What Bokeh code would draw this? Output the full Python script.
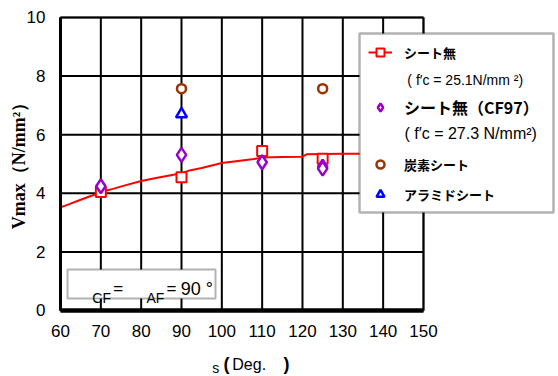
import math
from bokeh.plotting import figure
from bokeh.models import Range1d, FixedTicker, Legend, LegendItem, Label, BoxAnnotation, LinearAxis
from bokeh.embed import file_html
from bokeh.resources import INLINE

# ---- data ----
angle_ticks = [60, 70, 80, 90, 100, 110, 120, 130, 140, 150]
v_ticks = [0, 2, 4, 6, 8, 10]

# シート無 (f'c = 25.1 N/mm2)
none_angle = [70, 90, 110, 125]
none_v = [4.04, 4.55, 5.44, 5.18]
# fitted curve for シート無
curve_angle = [60, 62, 65, 68, 70, 73, 76, 80, 84, 88, 90, 92, 95, 100, 104, 108, 110, 115, 120, 121, 130, 140, 150]
curve_v = [3.52, 3.62, 3.78, 3.93, 4.04, 4.15, 4.27, 4.42, 4.53, 4.63, 4.68, 4.78, 4.86, 5.03, 5.10, 5.17, 5.22, 5.24, 5.25, 5.33, 5.35, 5.35, 5.35]
# シート無 (CF97)
cf97_angle = [70, 90, 110, 125, 125]
cf97_v = [4.24, 5.31, 5.06, 4.91, 4.84]
# 炭素シート
carbon_angle = [90, 125]
carbon_v = [7.57, 7.57]
# アラミドシート
aramid_angle = [90]
aramid_v = [6.7]

RED = "#FF0000"
PURPLE = "#9900CC"
BROWN = "#993300"
BLUE = "#0000FF"
SANS = "Liberation Sans"
CJK = "Noto Sans CJK JP"

X0, X1 = angle_ticks[0], angle_ticks[-1]
Y0, Y1 = v_ticks[0], v_ticks[-1]

# frame covers the whole canvas; data area 60..150 x 0..10 sits at px 60..423 / 310..17
p = figure(width=558, height=376, x_range=Range1d(45.12, 183.48), y_range=Range1d(-2.252, 10.577),
           output_backend="svg", toolbar_location=None,
           x_axis_location=None, y_axis_location=None,
           min_border=0, min_border_left=0, min_border_right=0, min_border_top=0, min_border_bottom=0)
p.background_fill_color = "white"
p.border_fill_color = "white"
p.outline_line_color = None
p.grid.visible = False

# grid lines from tick arrays
p.segment(x0=angle_ticks, y0=[Y0] * len(angle_ticks), x1=angle_ticks, y1=[Y1] * len(angle_ticks),
          line_color="black", line_width=2)
p.segment(x0=[X0] * len(v_ticks), y0=v_ticks, x1=[X1] * len(v_ticks), y1=v_ticks,
          line_color="black", line_width=2)

# axes at fixed locations
xaxis = LinearAxis(fixed_location=0, ticker=FixedTicker(ticks=angle_ticks), bounds=(X0, X1))
yaxis = LinearAxis(fixed_location=60, ticker=FixedTicker(ticks=v_ticks), bounds=(Y0, Y1))
for ax in (xaxis, yaxis):
    ax.major_tick_line_color = None
    ax.minor_tick_line_color = None
    ax.axis_line_color = "black"
    ax.major_label_text_font = SANS
    ax.major_label_text_font_size = "17px"
    ax.major_label_text_color = "black"
xaxis.axis_line_width = 4.5
yaxis.axis_line_width = 3
xaxis.major_label_standoff = 9
yaxis.major_label_standoff = 9
p.add_layout(xaxis, "below")
p.add_layout(yaxis, "left")

curve_r = p.line(curve_angle, curve_v, line_color=RED, line_width=2)
none_r = p.scatter(none_angle, none_v, marker="square", size=10, line_color=RED,
                   fill_color="white", line_width=2)
cf97_r = p.scatter(cf97_angle, cf97_v, marker="diamond", size=14,
                   line_color=PURPLE, fill_color="white", line_width=2.5)
carbon_r = p.scatter(carbon_angle, carbon_v, marker="circle", size=9, line_color=BROWN,
                     fill_color="white", line_width=2.5)
aramid_r = p.scatter(aramid_angle, aramid_v, marker="triangle", size=11, line_color=BLUE,
                     fill_color="white", line_width=2.5)

# plot-area border (top / right)
p.add_layout(BoxAnnotation(left=X0, right=X1, bottom=Y0, top=Y1, fill_alpha=0,
                           line_color="black", line_width=3))

def lab(x, y, text, size, font=SANS, style="normal", baseline="alphabetic", align="left", angle=0):
    p.add_layout(Label(x=x, y=y, text=text, text_font=font, text_font_size=size,
                       text_font_style=style, text_color="black", text_baseline=baseline,
                       text_align=align, angle=angle))

# ---- inset condition box ----
p.add_layout(BoxAnnotation(left=61.74, right=98.43, bottom=0.41, top=1.40,
                           fill_color="white", fill_alpha=1, line_color="black", line_width=2))
lab(67.9, 0.44, "CF", "14px")
lab(73.1, 0.75, "=", "17px")
lab(81.3, 0.44, "AF", "14px")
lab(86.3, 0.75, "=", "17px")
lab(89.8, 0.75, "90 °", "18px")

# ---- axis titles ----
lab(49.6, 5.08, "Vmax（N/mm²）", "18px", font="Liberation Serif", style="bold",
    baseline="middle", align="center", angle=math.pi / 2)
lab(97.6, -1.95, "s", "14px")
lab(100.4, -1.84, "(", "18px", style="bold")
lab(102.6, -1.84, "Deg.", "16px")
lab(115.3, -1.84, ")", "18px", style="bold")

# ---- legend ----
p.add_layout(BoxAnnotation(left=134.14, right=182.24, bottom=3.34, top=9.45,
                           fill_color="white", fill_alpha=1, line_color="black", line_width=2.5))

def leg(label, renderers, vy, size):
    lg = Legend(items=[LegendItem(label=label, renderers=renderers)], location=(368, vy),
                background_fill_alpha=0, border_line_alpha=0, padding=0, margin=0, spacing=0,
                glyph_width=24, glyph_height=20, label_height=20, label_standoff=12,
                label_text_font=CJK, label_text_font_style="bold", label_text_font_size=size,
                label_text_color="black")
    p.add_layout(lg, "center")

leg("シート無", [curve_r, none_r], 314, "13px")
leg("シート無（CF97）", [cf97_r], 257, "16px")
leg("炭素シート", [carbon_r], 202, "13px")
leg("アラミドシート", [aramid_r], 172, "13px")

lab(146.0, 7.85, "( f′c = 25.1N/mm  ²)", "14px", baseline="middle")
lab(145.3, 6.04, "( f′c = 27.3  N/mm²)", "16px", baseline="middle")

open("out.html", "w").write(file_html(p, INLINE))
